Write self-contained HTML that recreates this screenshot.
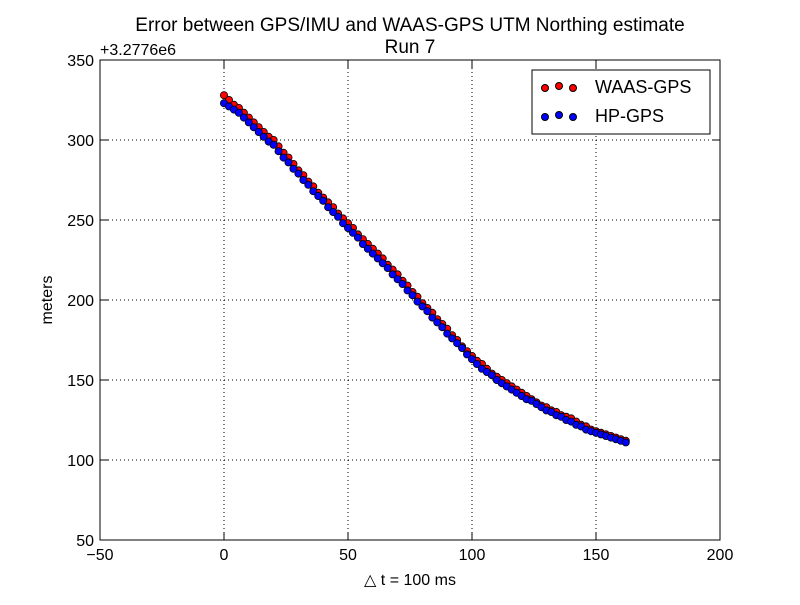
<!DOCTYPE html>
<html><head><meta charset="utf-8"><style>
body{margin:0;background:#fff;}
svg text{font-family:"Liberation Sans",sans-serif;}
</style></head><body>
<svg id="chart" width="800" height="600" xmlns="http://www.w3.org/2000/svg">
<rect width="800" height="600" fill="#fff"/>
<text x="410" y="31" text-anchor="middle" font-size="19">Error between GPS/IMU and WAAS-GPS UTM Northing estimate</text>
<text x="410" y="53" text-anchor="middle" font-size="19">Run 7</text>
<text x="100" y="55" font-size="16">+3.2776e6</text>
<text x="410" y="585" text-anchor="middle" font-size="16">△ t = 100 ms</text>
<text transform="translate(52,300) rotate(-90)" text-anchor="middle" font-size="16">meters</text>
<g id="grid"></g><g id="ticks"></g><g id="marks"></g>
<rect x="100" y="60" width="620" height="480" fill="none" stroke="#000" stroke-width="1"/>
<g>
<rect x="532" y="70" width="178" height="64" fill="#fff" stroke="#000"/>
<g>
<circle cx="545" cy="88" r="3.5" fill="#f00" stroke="#000"/><circle cx="559" cy="86" r="3.5" fill="#f00" stroke="#000"/><circle cx="573" cy="88" r="3.5" fill="#f00" stroke="#000"/>
<text x="595" y="93" font-size="18">WAAS-GPS</text></g>
<g>
<circle cx="545" cy="117" r="3.5" fill="#00f" stroke="#000"/><circle cx="559" cy="115" r="3.5" fill="#00f" stroke="#000"/><circle cx="573" cy="117" r="3.5" fill="#00f" stroke="#000"/>
<text x="595" y="122" font-size="18">HP-GPS</text></g>
</g>
</svg>
<script>
const xTicks=[-50,0,50,100,150,200];
const yTicks=[50,100,150,200,250,300,350];
const xs=[];for(let i=0;i<=162;i+=2)xs.push(i);
const waas=[328,325,322,320,317,314,311,308,305,302,300,296,292,289,285,281,278,274,271,267,264,261,258,254,251,248,245,241,238,235,232,229,226,222,219,216,212,209,205,202,198,195,192,188,185,182,178,175,171,168,165,162,160,157,154,152,150,148,146,144,142,140,138,136,134,133,131,130,128,127,126,124,122,121,119,118,117,116,115,114,113,112];
const hp=[323,321,319,317,314,311,308,305,302,299,297,293,289,286,282,279,275,272,268,265,262,258,255,252,248,245,242,239,235,232,229,226,223,220,216,213,210,206,203,199,196,193,189,186,183,179,176,173,170,166,163,160,157,155,153,150,148,146,144,142,140,138,137,135,133,131,130,128,127,125,124,122,121,119,118,117,116,115,114,113,112,111];
const X=v=>100+(v+50)*620/250, Y=v=>540-(v-50)*480/300;
const NS='http://www.w3.org/2000/svg';
const g=document.getElementById('grid'),t=document.getElementById('ticks'),m=document.getElementById('marks');
function el(tag,a,p){const e=document.createElementNS(NS,tag);for(const k in a)e.setAttribute(k,a[k]);p.appendChild(e);return e;}
xTicks.forEach(v=>{const x=X(v);
 const l=el('line',{x1:x,x2:x,y1:60,y2:540,stroke:'#000','stroke-dasharray':'1,3'},g);
 
 
 el('line',{x1:x,x2:x,y1:540,y2:532,stroke:'#000'},t);el('line',{x1:x,x2:x,y1:60,y2:68,stroke:'#000'},t);
 const tx=el('text',{x:x,y:560,'text-anchor':'middle','font-size':16},t);tx.textContent=String(v).replace('-','−');
 
 });
yTicks.forEach(v=>{const y=Y(v);
 const l=el('line',{x1:100,x2:720,y1:y,y2:y,stroke:'#000','stroke-dasharray':'1,3'},g);
 
 
 el('line',{x1:100,x2:108,y1:y,y2:y,stroke:'#000'},t);el('line',{x1:712,x2:720,y1:y,y2:y,stroke:'#000'},t);
 const tx=el('text',{x:94,y:y+6,'text-anchor':'end','font-size':16},t);tx.textContent=v;
 
 });
[[waas,'#f00','waas-point'],[hp,'#00f','hp-point']].forEach(([arr,c,n])=>{
 arr.forEach((v,i)=>{const p=el('circle',{cx:X(xs[i]),cy:Y(v),r:3.6,fill:c,stroke:'#000','stroke-width':0.8},m);
 
 });});
</script>
</body></html>
